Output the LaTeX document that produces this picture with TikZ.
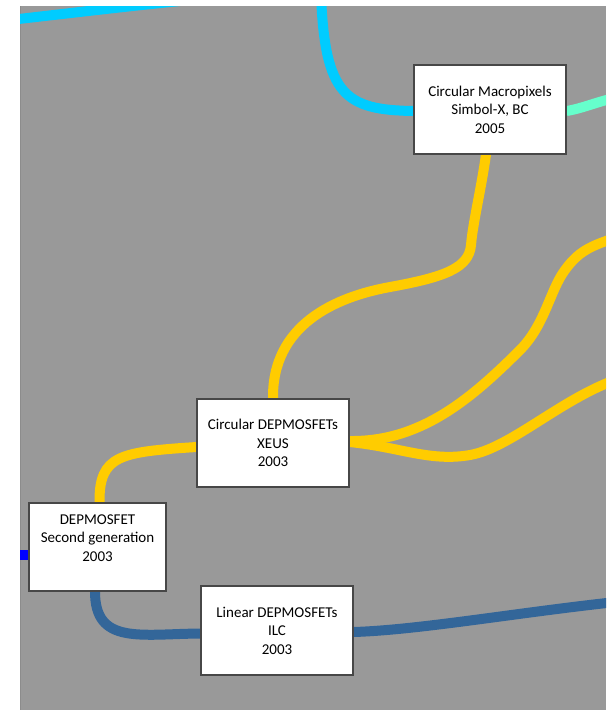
\documentclass[tikz,border=0pt]{standalone}
\usepackage{fontspec}
\setmainfont{Carlito}
\usetikzlibrary{backgrounds}
\definecolor{canvasgrey}{HTML}{999999}
\definecolor{skyline}{HTML}{00CCFF}
\definecolor{mintline}{HTML}{66FFCC}
\definecolor{goldline}{HTML}{FFCC00}
\definecolor{blueline}{HTML}{0000FF}
\definecolor{steelline}{HTML}{336699}
\begin{document}
\begin{tikzpicture}[x=1pt,y=-1pt,
  flow/.style={line width=10pt, line cap=butt},
  card/.style={draw=black!72, line width=1.1pt, fill=white, align=center,
    inner sep=0pt, text=black, font=\fontsize{15}{18.5}\selectfont},
]
\useasboundingbox (0,0) rectangle (606,710);

% cards
\node[card, minimum width=152pt, minimum height=89pt] (macro) at (490,109.5)
  {Circular Macropixels\\Simbol-X, BC\\2005};
\node[card, minimum width=152pt, minimum height=88pt] (circ) at (273,443)
  {Circular DEPMOSFETs\\XEUS\\2003};
\node[card, minimum width=137pt, minimum height=88pt] (second) at (97.5,547)
  {DEPMOSFET\\Second generation\\2003\\\mbox{}};
\node[card, minimum width=152pt, minimum height=89pt] (linear) at (277,630.5)
  {Linear DEPMOSFETs\\ILC\\2003};

% loose ends of the flows leaving the canvas
\coordinate (skyA) at (10,20);
\coordinate (skyB) at (190,0);
\coordinate (skyC) at (321,-5);
\coordinate (mintEnd) at (625,96);
\coordinate (goldUp) at (615,238);
\coordinate (goldRight) at (615,380);
\coordinate (blueStart) at (5,555);
\coordinate (steelEnd) at (625,601);

\begin{scope}[on background layer]
\fill[white] (0,0) rectangle (606,710);
\fill[canvasgrey] (20,6) rectangle (606,710);
\draw[black!45, line width=1pt] (20.5,6) -- (20.5,710);
\clip (20,6) rectangle (606,710);
% cyan flows
\draw[flow, skyline] (skyA) .. controls (80,12) and (130,6) .. (skyB);
\draw[flow, skyline] (skyC) .. controls (325,95) and (345,110) .. ([yshift=-1.5pt]macro.west);
% mint flow
\draw[flow, mintline] ([yshift=-1.5pt]macro.east) .. controls (585,108) and (600,100) .. (mintEnd);
% gold flows
\draw[flow, goldline] ([xshift=-4pt]macro.south) .. controls (481,190) and (473,222) .. (471,245)
  .. controls (469,268) and (445,277) .. (390,287)
  .. controls (335,297) and (272,325) .. (circ.north);
\draw[flow, goldline] ([yshift=-4pt]circ.west) .. controls (120,452) and (99,455) .. ([xshift=2pt]second.north);
\draw[flow, goldline] ([yshift=2pt]circ.east) .. controls (420,442) and (470,400) .. (520,350)
  .. controls (545,325) and (550,290) .. (565,270)
  .. controls (578,252) and (590,246) .. (goldUp);
\draw[flow, goldline] ([yshift=1pt]circ.east) .. controls (400,447) and (430,462) .. (470,455)
  .. controls (510,448) and (560,400) .. (goldRight);
% blue flows
\draw[flow, blueline] (blueStart) -- ([yshift=-8pt]second.west);
\draw[flow, steelline] ([xshift=-2.5pt]second.south) .. controls (95,645) and (140,634) .. ([yshift=-3pt]linear.west);
\draw[flow, steelline] ([yshift=-1.5pt]linear.east) .. controls (420,630) and (520,612) .. (steelEnd);
\end{scope}
\end{tikzpicture}
\end{document}
